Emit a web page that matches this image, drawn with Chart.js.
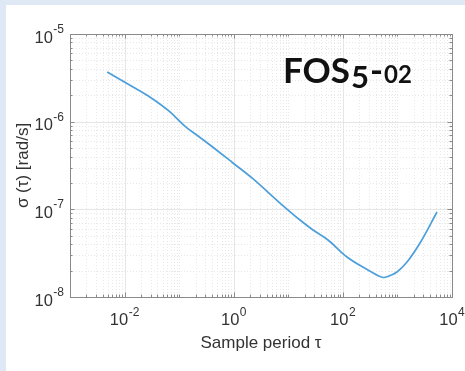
<!DOCTYPE html>
<html>
<head>
<meta charset="utf-8">
<script src="https://cdn.jsdelivr.net/npm/chart.js@4.4.1/dist/chart.umd.min.js"></script>
<style>
  html, body { margin: 0; padding: 0; background: #fff; }
  #wrap { width: 465px; height: 371px; position: relative; }
  canvas { display: block; }
</style>
</head>
<body>
<div id="wrap"><canvas id="c" width="465" height="371"></canvas></div>
<script>
// Allan deviation of the FOS5-02 gyro: averaging time (s) and sigma (rad/s)
const tau = [0.0048, 0.0143, 0.029, 0.068, 0.104, 0.139, 0.222, 0.368, 0.97, 2.16,
             7.05, 16.4, 28.4, 53.4, 119, 289, 480, 560, 645, 982, 1500, 2595, 5310];
const sigma = [3.69e-6, 2.48e-6, 1.91e-6, 1.29e-6, 1.0e-6, 8.5e-7, 6.87e-7, 5.42e-7, 3.38e-7, 2.28e-7,
               1.18e-7, 7.55e-8, 5.81e-8, 4.47e-8, 2.86e-8, 2.03e-8, 1.71e-8, 1.67e-8, 1.70e-8, 1.93e-8, 2.51e-8, 4.13e-8, 9.33e-8];

// Axis decades and labelled tick exponents
const xRangeExp = [-3, 4];
const yRangeExp = [-8, -5];
const xTickExponents = [-2, 0, 2, 4];
const yTickExponents = [-8, -7, -6, -5];

const xTitle = 'Sample period τ';
const yTitle = 'σ (τ) [rad/s]';
const titleParts = ['FOS', '5', '-', '02'];

const TEXT = '#333333';
const LABEL_FONT = '"Liberation Sans", Arial, sans-serif';

function drawPow(ctx, exp, x, baseY, align) {
  // "10" with a raised exponent
  ctx.font = '16.5px ' + LABEL_FONT;
  const wBase = ctx.measureText('10').width;
  ctx.font = '12px ' + LABEL_FONT;
  const expStr = String(exp);
  const wExp = ctx.measureText(expStr).width;
  const total = wBase + wExp + 0.5;
  let start = align === 'right' ? x - total : x - total / 2;
  ctx.textAlign = 'left';
  ctx.textBaseline = 'alphabetic';
  ctx.font = '16.5px ' + LABEL_FONT;
  ctx.fillText('10', start, baseY);
  ctx.font = '12px ' + LABEL_FONT;
  ctx.fillText(expStr, start + wBase + 0.5, baseY - 9.5);
}

const frame = {
  id: 'frame',
  beforeDraw(chart) {
    const ctx = chart.ctx;
    ctx.save();
    ctx.fillStyle = '#dee9f5';
    ctx.fillRect(0, 0, chart.width, chart.height);
    ctx.fillStyle = '#ffffff';
    ctx.fillRect(6, 5, chart.width - 6, chart.height - 5);
    ctx.restore();
  },
  beforeDatasetsDraw(chart) {
    const ctx = chart.ctx;
    const a = chart.chartArea;
    const xs = chart.scales.x, ys = chart.scales.y;
    ctx.save();
    ctx.lineWidth = 1;
    // minor grid (dotted) and major grid (solid)
    const xLines = [], yLines = [];
    for (let e = xRangeExp[0]; e <= xRangeExp[1]; e++) {
      for (let m = 1; m <= 9; m++) {
        if (e === xRangeExp[1] && m > 1) break;
        const major = m === 1 && xTickExponents.includes(e);
        xLines.push({ p: Math.round(xs.getPixelForValue(m * Math.pow(10, e))) + 0.5, major });
      }
    }
    for (let e = yRangeExp[0]; e <= yRangeExp[1]; e++) {
      for (let m = 1; m <= 9; m++) {
        if (e === yRangeExp[1] && m > 1) break;
        const major = m === 1 && yTickExponents.includes(e);
        yLines.push({ p: Math.round(ys.getPixelForValue(m * Math.pow(10, e))) + 0.5, major });
      }
    }
    ctx.setLineDash([1, 2]);
    ctx.strokeStyle = '#e8e8e8';
    ctx.beginPath();
    xLines.filter(l => !l.major).forEach(l => { ctx.moveTo(l.p, a.top); ctx.lineTo(l.p, a.bottom); });
    yLines.filter(l => !l.major).forEach(l => { ctx.moveTo(a.left, l.p); ctx.lineTo(a.right, l.p); });
    ctx.stroke();
    ctx.setLineDash([]);
    ctx.strokeStyle = '#e6e6e6';
    ctx.beginPath();
    xLines.filter(l => l.major).forEach(l => { ctx.moveTo(l.p, a.top); ctx.lineTo(l.p, a.bottom); });
    yLines.filter(l => l.major).forEach(l => { ctx.moveTo(a.left, l.p); ctx.lineTo(a.right, l.p); });
    ctx.stroke();

    // inward ticks on all four sides
    ctx.strokeStyle = '#8a8a8a';
    ctx.beginPath();
    xLines.forEach(l => {
      const len = l.major ? 4.5 : 2.5;
      ctx.moveTo(l.p, a.bottom); ctx.lineTo(l.p, a.bottom - len);
      ctx.moveTo(l.p, a.top); ctx.lineTo(l.p, a.top + len);
    });
    yLines.forEach(l => {
      const len = l.major ? 4.5 : 2.5;
      ctx.moveTo(a.left, l.p); ctx.lineTo(a.left + len, l.p);
      ctx.moveTo(a.right, l.p); ctx.lineTo(a.right - len, l.p);
    });
    ctx.stroke();

    // axes box
    ctx.strokeStyle = '#8a8a8a';
    ctx.strokeRect(Math.round(a.left) + 0.5, Math.round(a.top) + 0.5,
                   Math.round(a.right - a.left), Math.round(a.bottom - a.top));
    ctx.restore();
  },
  afterDraw(chart) {
    const ctx = chart.ctx;
    const a = chart.chartArea;
    const xs = chart.scales.x, ys = chart.scales.y;
    ctx.save();
    ctx.fillStyle = TEXT;
    xTickExponents.forEach(e => {
      drawPow(ctx, e, xs.getPixelForValue(Math.pow(10, e)), a.bottom + 28, 'center');
    });
    yTickExponents.forEach(e => {
      drawPow(ctx, e, a.left - 6, ys.getPixelForValue(Math.pow(10, e)) + 8.5, 'right');
    });

    // axis titles
    ctx.font = '17px ' + LABEL_FONT;
    ctx.textAlign = 'center';
    ctx.textBaseline = 'alphabetic';
    ctx.fillText(xTitle, (a.left + a.right) / 2, 348);
    ctx.translate(28, (a.top + a.bottom) / 2);
    ctx.rotate(-Math.PI / 2);
    ctx.fillText(yTitle, 0, 0);
    ctx.restore();

    // device name
    ctx.save();
    ctx.fillStyle = '#111111';
    ctx.textAlign = 'left';
    ctx.textBaseline = 'alphabetic';
    const fam = 'Lato, "Open Sans", sans-serif';
    let x = 283;
    const base = 83;
    const parts = [
      { t: titleParts[0], size: 35, dy: 0, gap: 1 },
      { t: titleParts[1], size: 31, dy: 5, gap: 1 },
      { t: titleParts[2], size: 35, dy: 0, gap: 1 },
      { t: titleParts[3], size: 24, dy: 0, gap: 0 }
    ];
    parts.forEach(p => {
      ctx.font = 'bold ' + p.size + 'px ' + fam;
      ctx.fillText(p.t, x, base + p.dy);
      x += ctx.measureText(p.t).width + p.gap;
    });
    ctx.restore();
  }
};

new Chart(document.getElementById('c'), {
  type: 'line',
  data: {
    datasets: [{
      data: tau.map((t, i) => ({ x: t, y: sigma[i] })),
      borderColor: '#4c9fdb',
      borderWidth: 1.7,
      pointRadius: 0,
      fill: false,
      cubicInterpolationMode: 'monotone'
    }]
  },
  options: {
    responsive: false,
    animation: false,
    devicePixelRatio: 1,
    layout: { padding: { top: 34, right: 13, left: 0, bottom: 0 } },
    plugins: { legend: { display: false }, tooltip: { enabled: false } },
    scales: {
      x: {
        type: 'logarithmic',
        min: Math.pow(10, xRangeExp[0]),
        max: Math.pow(10, xRangeExp[1]),
        grid: { display: false },
        border: { display: false },
        ticks: { display: false },
        afterFit(s) { s.height = 74; }
      },
      y: {
        type: 'logarithmic',
        min: Math.pow(10, yRangeExp[0]),
        max: Math.pow(10, yRangeExp[1]),
        grid: { display: false },
        border: { display: false },
        ticks: { display: false },
        afterFit(s) { s.width = 70; }
      }
    }
  },
  plugins: [frame]
});
</script>
</body>
</html>
